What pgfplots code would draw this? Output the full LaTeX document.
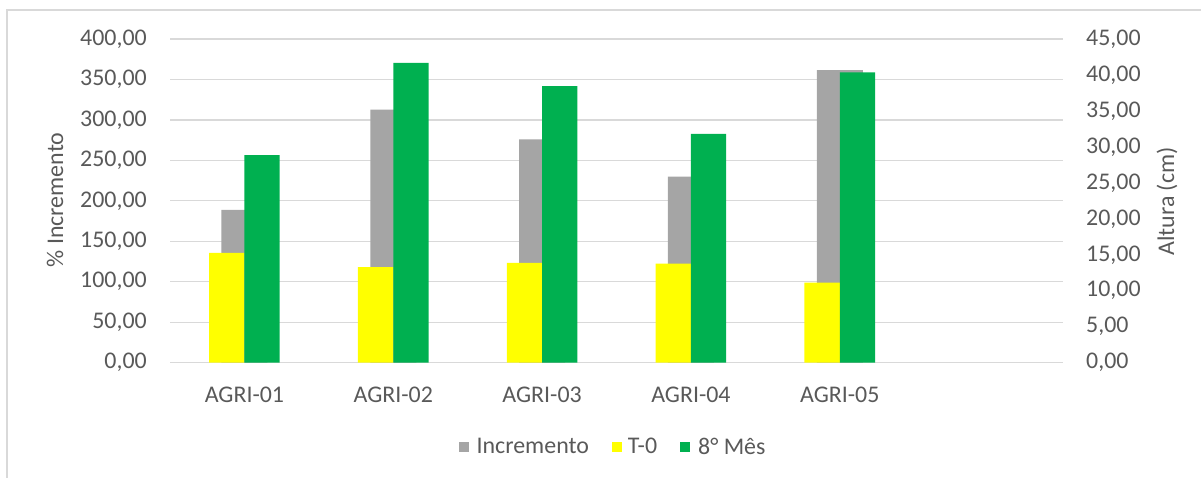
\documentclass[border=0pt]{standalone}
\usepackage{fontspec}
\setmainfont{Carlito}
\usepackage{pgfplots}
\pgfplotsset{compat=1.18}
\definecolor{incr}{HTML}{A5A5A5}
\definecolor{tzero}{HTML}{FFFF00}
\definecolor{oito}{HTML}{00B050}
\definecolor{txt}{HTML}{595959}
\definecolor{grd}{HTML}{D9D9D9}
\newcommand{\chartfont}{\fontsize{24}{29}\selectfont}
\begin{document}
\begin{tikzpicture}[x=1bp,y=1bp]
\useasboundingbox (0,0) rectangle (1201,478);
\draw[grd, line width=1.3bp] (7,0) -- (7,468) -- (1201,468);
\begin{axis}[
  at={(170bp,115.3bp)}, anchor=south west,
  scale only axis, width=893bp, height=323.7bp,
  xmin=-0.5, xmax=5.5, ymin=0, ymax=400,
  axis x line*=bottom, axis y line*=left,
  axis line style={draw=none}, major tick length=0pt,
  xtick={0,1,2,3,4},
  xticklabels={AGRI-01,AGRI-02,AGRI-03,AGRI-04,AGRI-05},
  ytick={0,50,...,400},
  ymajorgrids, grid style={grd, line width=1.3bp},
  tick label style={font=\chartfont, text=txt},
  xticklabel style={anchor=center, inner sep=0pt, yshift=-32bp},
  yticklabel style={anchor=east, inner sep=0pt, xshift=-23bp,
    /pgf/number format/.cd, fixed, fixed zerofill, precision=2, use comma, 1000 sep={}, assume math mode=true},
  ylabel={\% Incremento},
  ylabel style={at={(rel axis cs:-0.1288,0.5026)}, anchor=center, font=\chartfont, text=txt},
  ybar, bar width=46bp,
]
\addplot[fill=incr, draw=none, bar shift=0bp] coordinates {(0,188.7) (1,312.7) (2,276.1) (3,229.9) (4,361.4)};
\end{axis}
\begin{axis}[
  at={(170bp,115.3bp)}, anchor=south west,
  scale only axis, width=893bp, height=323.7bp,
  xmin=-0.5, xmax=5.5, ymin=0, ymax=45,
  axis x line=none, axis y line*=right,
  axis line style={draw=none}, major tick length=0pt,
  ytick={0,5,...,45},
  tick label style={font=\chartfont, text=txt},
  yticklabel style={anchor=west, inner sep=0pt, xshift=23bp,
    /pgf/number format/.cd, fixed, fixed zerofill, precision=2, use comma, 1000 sep={}, assume math mode=true},
  ylabel={Altura (cm)},
  ylabel style={at={(rel axis cs:1.1165,0.498)}, anchor=center, font=\chartfont, text=txt},
  ybar, bar width=35.3bp,
  legend columns=3,
  legend style={draw=none, fill=none, font=\chartfont, text=txt,
    at={(rel axis cs:0.4978,-0.2604)}, anchor=center,
    nodes={inner xsep=5bp, inner ysep=2bp},
    /tikz/every even column/.append style={column sep=18bp}},
]
\addlegendimage{legend image code/.code={\fill[incr,draw=none] (0bp,-5bp) rectangle (10bp,5bp); \path[draw=none,fill=none] (0bp,0bp) -- (13bp,0bp);}}
\addlegendentry{Incremento}
\addplot[fill=tzero, draw=none, bar shift=-17.65bp,
  legend image code/.code={\fill[tzero,draw=none] (0bp,-5bp) rectangle (10bp,5bp); \path[draw=none,fill=none] (0bp,0bp) -- (11bp,0bp);}]
  coordinates {(0,15.25) (1,13.30) (2,13.86) (3,13.76) (4,11.12)};
\addlegendentry{T-0}
\addplot[fill=oito, draw=none, bar shift=17.65bp,
  legend image code/.code={\fill[oito,draw=none] (0bp,-5bp) rectangle (10bp,5bp); \path[draw=none,fill=none] (0bp,0bp) -- (13bp,0bp);}]
  coordinates {(0,28.87) (1,41.67) (2,38.43) (3,31.80) (4,40.37)};
\addlegendentry{8° Mês}
\end{axis}
\end{tikzpicture}
\end{document}
